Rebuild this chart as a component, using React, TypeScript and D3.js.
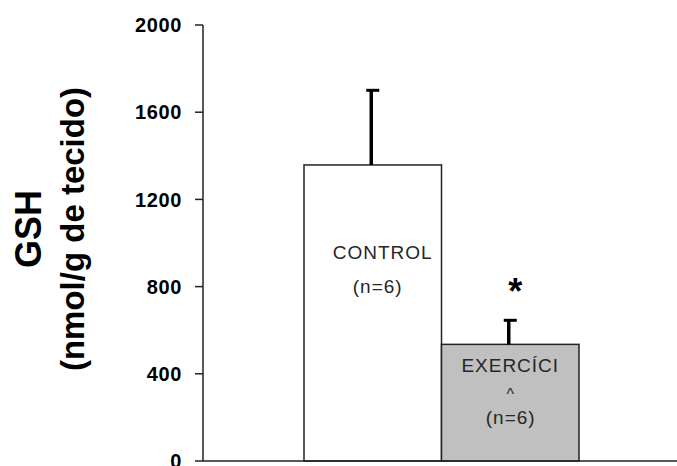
import React from "react";
import * as d3 from "d3";

const categories = ["CONTROL", "EXERCÍCIO"];
const means = [1358, 535];
const errors = [347, 115];
const barFills = ["#ffffff", "#c0c0c0"];
const barLabelLines = [["CONTROL", "(n=6)"], ["EXERCÍCI", "^", "(n=6)"]];
const significance = ["", "*"];
const yTicks = [0, 400, 800, 1200, 1600, 2000];
const yTitle = "GSH";
const yUnit = "(nmol/g de tecido)";

const W = 677;
const H = 466;
const FONT = "Arial, 'Liberation Sans', sans-serif";

export default function App() {
  const y = d3.scaleLinear().domain([0, 2000]).range([461, 25]);
  const x = d3.scaleBand<string>().domain(categories).range([304, 579]).paddingInner(0).paddingOuter(0);
  const axisX = 203;
  const bw = x.bandwidth();

  const lineDx = [[10, 5], [0, 0.5, 0.5]];
  const lineBaselines = [[258.5, 293], [372, 400, 424]];
  const lineSizes = [[19, 19], [19, 16, 19]];

  return (
    <svg width={W} height={H} style={{ position: "absolute", left: 0, top: 0, background: "#fff" }} fontFamily={FONT}>
      <rect x={0} y={0} width={W} height={H} fill="#fff" />
      {/* bars */}
      {categories.map((c, i) => (
        <rect
          key={c}
          x={x(c)!}
          y={y(means[i])}
          width={bw}
          height={y(0) - y(means[i])}
          fill={barFills[i]}
          stroke="#222"
          strokeWidth={1.5}
        />
      ))}
      {/* error bars */}
      {categories.map((c, i) => {
        const cx = x(c)! + bw / 2 - 1.5;
        const top = y(means[i] + errors[i]);
        return (
          <g key={"e" + c} stroke="#000">
            <line x1={cx} x2={cx} y1={y(means[i])} y2={top} strokeWidth={3.5} />
            <line x1={cx - 5} x2={cx + 8} y1={top + 1} y2={top + 1} strokeWidth={3} />
          </g>
        );
      })}
      {/* significance */}
      {categories.map((c, i) =>
        significance[i] ? (
          <text key={"s" + c} x={x(c)! + bw / 2 + 5} y={y(means[i] + errors[i]) - 15} textAnchor="middle" fontSize={36} fontWeight="bold" fill="#000">
            {significance[i]}
          </text>
        ) : null
      )}
      {/* bar labels */}
      {categories.map((c, i) =>
        barLabelLines[i].map((t, j) => (
          <text
            key={c + j}
            x={x(c)! + bw / 2 + lineDx[i][j]}
            y={lineBaselines[i][j]}
            textAnchor="middle"
            fontSize={lineSizes[i][j]}
            fill="#262626"
            letterSpacing={1}
          >
            {t}
          </text>
        ))
      )}
      {/* axes */}
      <line x1={axisX} x2={axisX} y1={y(2000)} y2={y(0)} stroke="#222" strokeWidth={1.5} />
      <line x1={axisX} x2={W} y1={y(0)} y2={y(0)} stroke="#222" strokeWidth={1.5} />
      {yTicks.map((t) => (
        <g key={t}>
          <line x1={axisX - 8} x2={axisX} y1={y(t)} y2={y(t)} stroke="#222" strokeWidth={1.5} />
          <text x={182} y={y(t)} dy="0.36em" textAnchor="end" fontSize={20} fontWeight="bold" fill="#000" letterSpacing={0.6}>
            {t}
          </text>
        </g>
      ))}
      {/* y titles */}
      <text transform={`translate(41,229) rotate(-90)`} textAnchor="middle" fontSize={36} fontWeight="bold" fill="#000">
        {yTitle}
      </text>
      <text transform={`translate(84,229) rotate(-90)`} textAnchor="middle" fontSize={33} fontWeight="bold" fill="#000">
        {yUnit}
      </text>
    </svg>
  );
}
